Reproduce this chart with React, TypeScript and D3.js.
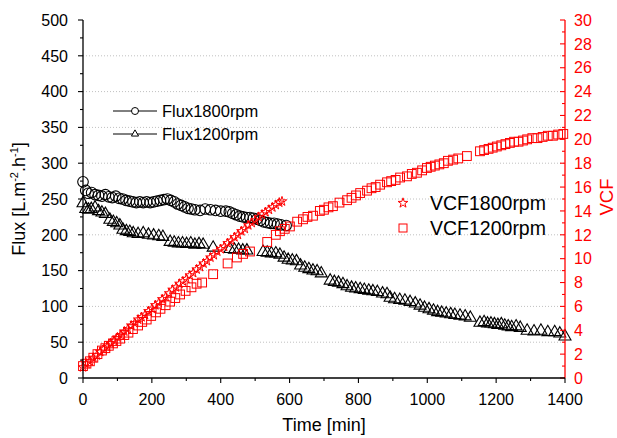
import React from "react";
import * as d3 from "d3";

// Flux1800rpm (circles): [time min, flux]
const flux1800T = [0, 8, 15, 25, 35, 45, 55, 65, 75, 85, 95, 105, 115, 125, 135, 145, 155, 165, 175, 185, 195, 205, 215, 225, 235, 245, 255, 265, 275, 285, 295, 305, 315, 325, 340, 355, 370, 385, 400, 415, 425, 435, 445, 455, 465, 475, 485, 495, 505, 515, 525, 535, 545, 555, 565, 575, 590];
const flux1800V = [274, 262, 258, 259, 256, 255, 254, 256, 253, 252, 254, 251, 250, 248, 247, 246, 245, 246, 245, 246, 245, 246, 247, 248, 249, 250, 248, 246, 243, 241, 239, 237, 236, 235, 234, 236, 235, 234, 233, 233, 232, 230, 228, 226, 225, 224, 224, 223, 222, 220, 218, 217, 216, 216, 215, 214, 213];

// Flux1200rpm (triangles)
const flux1200T = [0, 8, 16, 24, 35, 45, 55, 65, 78, 88, 98, 107, 116, 126, 136, 146, 160, 175, 190, 205, 220, 232, 253, 265, 277, 289, 301, 313, 325, 337, 349, 378, 427, 440, 452, 464, 476, 523, 535, 547, 560, 572, 584, 596, 608, 620, 632, 644, 656, 668, 680, 692, 718, 730, 742, 755, 767, 780, 792, 805, 817, 830, 842, 855, 870, 883, 892, 905, 920, 935, 950, 965, 979, 992, 1005, 1018, 1030, 1042, 1055, 1068, 1080, 1095, 1110, 1125, 1153, 1165, 1175, 1185, 1195, 1205, 1215, 1225, 1235, 1245, 1258, 1270, 1290, 1310, 1330, 1350, 1370, 1385, 1400];
const flux1200V = [244, 236, 235, 236, 238, 233, 231, 229, 221, 218, 216, 213, 207, 205, 204, 202, 201, 202, 200, 199, 198, 197, 190, 189, 188, 188, 187, 188, 186, 187, 186, 182, 180, 179, 179, 178, 178, 176, 175, 174, 174, 172, 168, 165, 164, 163, 157, 154, 152, 150, 149, 146, 136, 134, 133, 131, 128, 126, 125, 124, 123, 122, 121, 120, 118, 117, 112, 110, 109, 108, 106, 104, 101, 98, 96, 94, 92, 91, 90, 89, 88, 87, 86, 84, 77, 78, 76, 76, 75, 74, 75, 73, 72, 71, 72, 70, 66, 65, 66, 64, 64, 62, 58];

// VCF1800rpm (stars)
const vcf1800T = [0, 10, 20, 30, 40, 50, 60, 70, 80, 90, 100, 110, 120, 130, 140, 150, 160, 170, 180, 190, 200, 210, 220, 230, 240, 250, 260, 270, 280, 290, 300, 310, 320, 330, 340, 350, 360, 370, 380, 390, 400, 410, 420, 430, 440, 450, 460, 470, 480, 490, 500, 510, 520, 530, 540, 550, 560, 570, 578];
const vcf1800V = [0.9, 1.2, 1.4, 1.7, 1.9, 2.2, 2.4, 2.6, 2.9, 3.1, 3.4, 3.6, 3.9, 4.1, 4.4, 4.6, 4.9, 5.1, 5.3, 5.6, 5.8, 6.1, 6.3, 6.6, 6.8, 7.1, 7.4, 7.6, 7.9, 8.1, 8.3, 8.6, 8.8, 9.1, 9.3, 9.6, 9.8, 10.1, 10.3, 10.6, 10.8, 11.0, 11.3, 11.5, 11.8, 12.0, 12.3, 12.5, 12.8, 13.0, 13.2, 13.5, 13.7, 13.9, 14.1, 14.3, 14.5, 14.7, 14.8];

// VCF1200rpm (squares)
const vcf1200T = [0, 10, 20, 30, 42, 55, 65, 75, 87, 97, 108, 120, 132, 145, 160, 172, 185, 198, 212, 225, 240, 253, 268, 282, 298, 315, 330, 346, 378, 420, 447, 465, 485, 535, 560, 572, 586, 601, 622, 639, 652, 668, 688, 700, 713, 726, 745, 767, 780, 793, 805, 825, 838, 850, 863, 883, 895, 908, 921, 941, 955, 970, 985, 999, 1010, 1022, 1035, 1048, 1060, 1075, 1090, 1115, 1153, 1165, 1178, 1190, 1202, 1215, 1227, 1240, 1252, 1265, 1278, 1290, 1305, 1320, 1335, 1350, 1365, 1380, 1395];
const vcf1200V = [1.0, 1.2, 1.4, 1.7, 2.0, 2.3, 2.5, 2.7, 2.9, 3.1, 3.3, 3.6, 3.8, 4.1, 4.4, 4.7, 4.9, 5.2, 5.5, 5.8, 6.1, 6.4, 6.7, 7.0, 7.3, 7.6, 7.9, 8.0, 8.7, 9.6, 10.1, 10.4, 10.6, 11.4, 12.0, 12.3, 12.5, 12.7, 13.1, 13.3, 13.5, 13.6, 14.0, 14.1, 14.3, 14.4, 14.7, 14.9, 15.1, 15.3, 15.5, 15.7, 15.9, 16.0, 16.2, 16.4, 16.5, 16.6, 16.8, 16.9, 17.1, 17.2, 17.4, 17.6, 17.7, 17.8, 17.9, 18.0, 18.2, 18.3, 18.4, 18.6, 19.0, 19.1, 19.2, 19.3, 19.4, 19.5, 19.6, 19.7, 19.8, 19.8, 19.9, 20.0, 20.1, 20.1, 20.2, 20.3, 20.3, 20.4, 20.45];

const xTicks = [0, 200, 400, 600, 800, 1000, 1200, 1400];
const yTicks = [0, 50, 100, 150, 200, 250, 300, 350, 400, 450, 500];
const y2Ticks = [0, 2, 4, 6, 8, 10, 12, 14, 16, 18, 20, 22, 24, 26, 28, 30];

const FONT = "'Liberation Sans', Arial, sans-serif";
const RED = "#ff0000";

export default function App() {
  const W = 617, H = 438;
  const L = 83, R = 565, T = 20, B = 378;
  const x = d3.scaleLinear().domain([0, 1400]).range([L, R]);
  const y = d3.scaleLinear().domain([0, 500]).range([B, T]);
  const y2 = d3.scaleLinear().domain([0, 30]).range([B, T]);

  const tri = d3.symbol().type(d3.symbolTriangle).size(62)() as string;
  const triSmall = d3.symbol().type(d3.symbolTriangle).size(22)() as string;
  const star = d3.symbol().type(d3.symbolStar).size(28)() as string;
  const starLeg = d3.symbol().type(d3.symbolStar).size(30)() as string;

  const xMinor = d3.range(0, 1401, 100);
  const yMinor = d3.range(0, 501, 25);
  const y2Minor = d3.range(0, 31, 1);

  return (
    <svg width={W} height={H} style={{ position: "absolute", left: 0, top: 0, background: "#fff" }} fontFamily={FONT}>
      <rect x={0} y={0} width={W} height={H} fill="#fff" />
      {/* grid */}
      {yTicks.filter(v => v > 0 && v < 500).map(v => (
        <line key={"g" + v} x1={L} x2={R} y1={y(v)} y2={y(v)} stroke="#c0c0c0" strokeWidth={1} strokeDasharray="1,2" />
      ))}

      {/* data */}
      <g fill="none" stroke="#000" strokeWidth={1.1}>
        {flux1800T.map((t, i) => (
          <circle key={"c" + i} cx={x(t)} cy={y(flux1800V[i])} r={5.3} />
        ))}
        {flux1200T.map((t, i) => (
          <path key={"t" + i} d={tri} transform={`translate(${x(t)},${y(flux1200V[i])})`} />
        ))}
      </g>
      <g fill="none" stroke={RED} strokeWidth={1}>
        {vcf1200T.map((t, i) => (
          <rect key={"s" + i} x={x(t) - 4.4} y={y2(vcf1200V[i]) - 4.4} width={8.8} height={8.8} />
        ))}
        {vcf1800T.map((t, i) => (
          <path key={"st" + i} d={star} transform={`translate(${x(t)},${y2(vcf1800V[i])})`} />
        ))}
      </g>

      {/* left axis */}
      <line x1={L} x2={L} y1={T} y2={B} stroke="#000" strokeWidth={1.3} />
      {yMinor.map(v => (
        <line key={"ym" + v} x1={L} x2={L - (v % 50 === 0 ? 5 : 3)} y1={y(v)} y2={y(v)} stroke="#000" strokeWidth={1.1} />
      ))}
      {yTicks.map(v => (
        <text key={"yl" + v} x={L - 15} y={y(v)} dy="0.36em" textAnchor="end" fontSize={16} fill="#000">{v}</text>
      ))}

      {/* right axis */}
      <line x1={R} x2={R} y1={T} y2={B} stroke={RED} strokeWidth={1.3} />
      {y2Minor.map(v => (
        <line key={"y2m" + v} x1={R} x2={R - (v % 2 === 0 ? 5 : 3)} y1={y2(v)} y2={y2(v)} stroke={RED} strokeWidth={1.1} />
      ))}
      {y2Ticks.map(v => (
        <text key={"y2l" + v} x={R + 9} y={y2(v)} dy="0.36em" textAnchor="start" fontSize={16} fill={RED}>{v}</text>
      ))}

      {/* bottom axis */}
      <line x1={L} x2={R} y1={B} y2={B} stroke="#000" strokeWidth={1.3} />
      {xMinor.map(v => (
        <line key={"xm" + v} x1={x(v)} x2={x(v)} y1={B} y2={B + (v % 200 === 0 ? 5 : 3)} stroke="#000" strokeWidth={1.1} />
      ))}
      {xTicks.map(v => (
        <text key={"xl" + v} x={x(v)} y={B + 27} textAnchor="middle" fontSize={16} fill="#000">{v}</text>
      ))}

      {/* axis titles */}
      <text x={(L + R) / 2} y={431} textAnchor="middle" fontSize={18} fill="#000">Time [min]</text>
      <text transform={`translate(25,${(T + B) / 2}) rotate(-90)`} textAnchor="middle" fontSize={18} fill="#000">
        Flux [L.m<tspan fontSize={11} dy={-7}>-2</tspan><tspan dy={7}>.h</tspan><tspan fontSize={11} dy={-7}>-1</tspan><tspan dy={7}>]</tspan>
      </text>
      <text transform={`translate(613,${(T + B) / 2 - 2}) rotate(-90)`} textAnchor="middle" fontSize={18.5} fill={RED}>VCF</text>

      {/* legend flux */}
      <g stroke="#000" strokeWidth={1} fill="none">
        <line x1={113} x2={157} y1={111} y2={111} />
        <circle cx={135} cy={111} r={3.5} fill="#fff" />
        <line x1={113} x2={157} y1={134} y2={134} />
        <path d={triSmall} transform="translate(135,134)" fill="#fff" />
      </g>
      <text x={162} y={117} fontSize={16.5} fill="#000">Flux1800rpm</text>
      <text x={162} y={140} fontSize={16.5} fill="#000">Flux1200rpm</text>

      {/* legend vcf */}
      <g stroke={RED} strokeWidth={1} fill="none">
        <path d={starLeg} transform="translate(403,203)" />
        <rect x={399} y={224} width={8} height={8} />
      </g>
      <text x={430} y={210} fontSize={19.5} fill="#000">VCF1800rpm</text>
      <text x={430} y={235} fontSize={19.5} fill="#000">VCF1200rpm</text>
    </svg>
  );
}
